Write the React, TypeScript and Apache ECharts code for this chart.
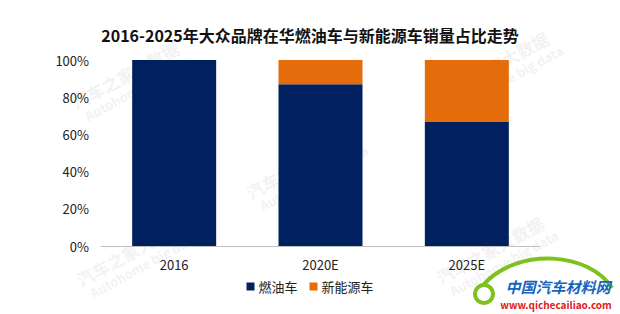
import React, { useEffect, useRef } from "react";
import * as echarts from "echarts";

const categories = ["2016", "2020E", "2025E"];
const fuelShare = [100, 87, 67];
const nevShare = [0, 13, 33];
const seriesNames = ["燃油车", "新能源车"];
const titleText = "2016-2025年大众品牌在华燃油车与新能源车销量占比走势";
const watermarkCn = "汽车之家大数据";
const watermarkEn = "Autohome big data";

const FONT = '"Noto Sans CJK SC", "Noto Sans", sans-serif';

function watermark(x: number, y: number) {
  return {
    type: "group",
    x,
    y,
    rotation: 0.5,
    z: -10,
    silent: true,
    children: [
      {
        type: "text",
        x: 0,
        y: 0,
        style: {
          text: watermarkCn,
          font: `bold 17px ${FONT}`,
          fill: "rgba(190,190,190,0.2)",
          textAlign: "center",
          textVerticalAlign: "middle",
        },
      },
      {
        type: "text",
        x: 6,
        y: 18,
        style: {
          text: watermarkEn,
          font: `bold 13px ${FONT}`,
          fill: "rgba(190,190,190,0.2)",
          textAlign: "center",
          textVerticalAlign: "middle",
        },
      },
    ],
  };
}

export default function App() {
  const ref = useRef<HTMLDivElement>(null);
  useEffect(() => {
    if (!ref.current) return;
    const chart = echarts.init(ref.current, undefined, { renderer: "svg" });
    chart.setOption({
      animation: false,
      backgroundColor: "#ffffff",
      title: {
        text: titleText,
        left: "center",
        top: 22,
        textStyle: {
          fontFamily: FONT,
          fontSize: 16,
          fontWeight: "bold",
          color: "#111",
        },
      },
      grid: { left: 101, right: 80, top: 60, bottom: 68, containLabel: false },
      legend: {
        data: seriesNames,
        bottom: 16,
        left: "center",
        icon: "rect",
        itemWidth: 8,
        itemHeight: 8,
        itemGap: 12,
        textStyle: { fontFamily: FONT, fontSize: 13, color: "#222", padding: [0, 0, 0, -1] },
      },
      xAxis: {
        type: "category",
        data: categories,
        axisLine: { show: true, lineStyle: { color: "#BFBFBF", width: 1 } },
        axisTick: { show: false },
        axisLabel: { fontFamily: FONT, fontSize: 13, color: "#222", margin: 12 },
      },
      yAxis: {
        type: "value",
        min: 0,
        max: 100,
        interval: 20,
        axisLine: { show: false },
        axisTick: { show: false },
        splitLine: { show: false },
        axisLabel: {
          formatter: "{value}%",
          fontFamily: FONT,
          fontSize: 13,
          color: "#222",
          margin: 12,
        },
      },
      series: [
        {
          name: seriesNames[0],
          type: "bar",
          stack: "total",
          data: fuelShare,
          barWidth: 84,
          itemStyle: { color: "#002060" },
        },
        {
          name: seriesNames[1],
          type: "bar",
          stack: "total",
          data: nevShare,
          barWidth: 84,
          itemStyle: { color: "#E46C0A" },
        },
      ],
      graphic: [
        watermark(125, 75),
        watermark(130, 252),
        watermark(300, 165),
        watermark(495, 65),
        watermark(490, 250),
        {
          type: "bezierCurve",
          z: 100,
          silent: true,
          shape: { x1: 484, y1: 284, x2: 612, y2: 288, cpx1: 520, cpy1: 246, cpx2: 590, cpy2: 253 },
          style: { stroke: "#7DC21E", lineWidth: 4, fill: null },
        },
        {
          type: "ring",
          z: 100,
          silent: true,
          shape: { cx: 484, cy: 294, r: 11, r0: 7 },
          style: { fill: "#7DC21E" },
        },
        {
          type: "rect",
          z: 99,
          silent: true,
          shape: { x: 500, y: 276, width: 116, height: 36 },
          style: { fill: "rgba(255,255,255,0.85)" },
        },
        {
          type: "text",
          z: 101,
          silent: true,
          x: 558,
          y: 286,
          style: {
            text: "中国汽车材料网",
            font: `italic bold 15px ${FONT}`,
            fill: "#1565C0",
            textAlign: "center",
            textVerticalAlign: "middle",
          },
        },
        {
          type: "text",
          z: 101,
          silent: true,
          x: 556,
          y: 304,
          style: {
            text: "www.qichecailiao.com",
            font: `bold 10px ${FONT}`,
            fill: "#E0201B",
            textAlign: "center",
            textVerticalAlign: "middle",
          },
        },
      ],
    });
    return () => chart.dispose();
  }, []);
  return (
    <div
      ref={ref}
      style={{ position: "fixed", left: 0, top: 0, width: 620, height: 314 }}
    />
  );
}
